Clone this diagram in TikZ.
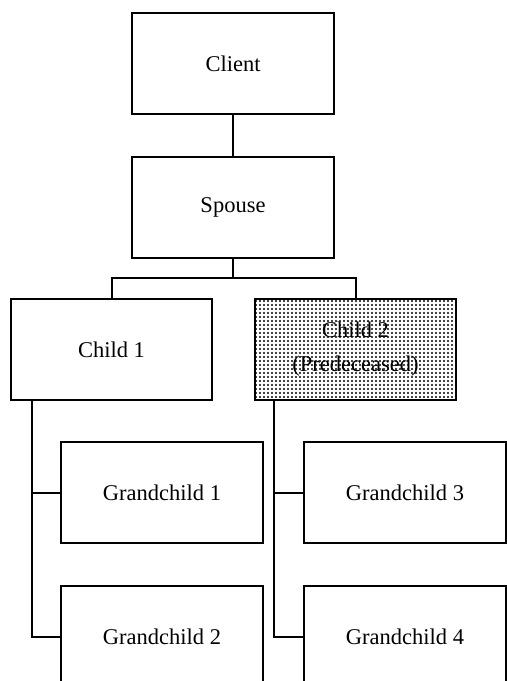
\documentclass[tikz,border=0pt]{standalone}
\usepackage{fontspec}
\setmainfont{Liberation Serif}
\usetikzlibrary{patterns.meta}
\tikzset{
  box/.style={draw, line width=1pt, rectangle, minimum width=101pt,
    minimum height=50.5pt, inner sep=0pt, align=center,
    font=\fontsize{11.25}{17}\selectfont},
  deceased/.style={box, pattern={Dots[distance=2pt, radius=0.6pt]}},
  link/.style={line width=1pt}
}
\begin{document}
\begin{tikzpicture}[x=0.5pt, y=-0.5pt]
  \useasboundingbox (0,0) rectangle (507,681);
  \clip (0,0) rectangle (507,681);
  \fill[white] (0,0) rectangle (507,681);

  % family tree boxes
  \node[box] (client) at (233,63.5) {Client};
  \node[box] (spouse) at (233,207) {Spouse};
  \node[box, minimum width=100.5pt] (child1) at (111.5,349.5) {Child 1};
  \node[deceased, minimum width=100.5pt] (child2) at (355.5,349.5) {Child 2\\(Predeceased)};
  \node[box] (g1) at (162,492.5) {Grandchild 1};
  \node[box] (g2) at (162,636.5) {Grandchild 2};
  \node[box] (g3) at (405,492.5) {Grandchild 3};
  \node[box] (g4) at (405,636.5) {Grandchild 4};

  % junction points
  \coordinate (bar) at (233,278);
  \coordinate (trunkA) at (32,400);
  \coordinate (trunkB) at (274,400);

  % connectors
  \draw[link] (client.south) -- (spouse.north);
  \draw[link] (spouse.south) -- (bar);
  \draw[link] (child1.north) |- (bar) -| (child2.north);
  \draw[link] (trunkA) |- (g2.west);
  \draw[link] (trunkA |- g1.west) -- (g1.west);
  \draw[link] (trunkB) |- (g4.west);
  \draw[link] (trunkB |- g3.west) -- (g3.west);
\end{tikzpicture}
\end{document}
